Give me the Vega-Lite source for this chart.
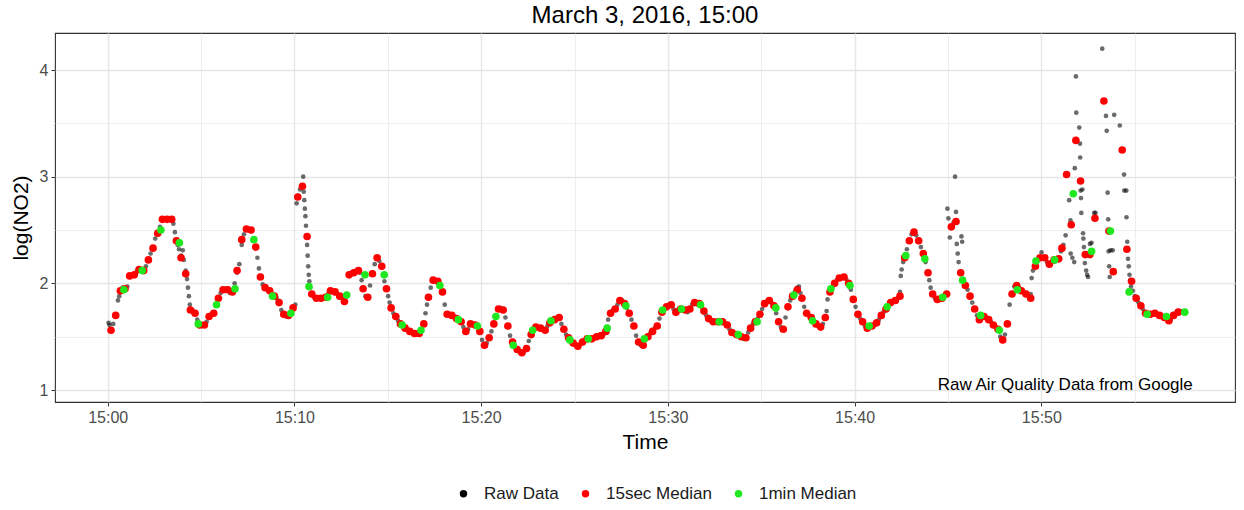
{
"$schema": "https://vega.github.io/schema/vega-lite/v6.json",
"width": 1180, "height": 369,
"autosize": {"type": "none"},
"padding": {"left": 55, "top": 33, "right": 9, "bottom": 108},
"title": {"text": "March 3, 2016, 15:00", "fontSize": 24, "font": "Liberation Sans", "fontWeight": "normal", "color": "#000000", "anchor": "middle", "offset": 5},
"config": {
  "font": "Liberation Sans",
  "view": {"stroke": "#333333", "strokeWidth": 1.1},
  "axis": {"domain": false, "gridColor": "#E6E6E6", "tickColor": "#333333", "tickSize": 4, "tickWidth": 1, "labelFontSize": 16, "labelColor": "#4D4D4D", "titleFontSize": 21, "titleFontWeight": "normal", "titleColor": "#000000", "labelPadding": 3}
},
"datasets": {
"raw": [
{"t":0.05,"v":1.63},{"t":0.1,"v":1.61},{"t":0.18,"v":1.57},{"t":0.3,"v":1.62},{"t":0.43,"v":1.70},{"t":0.55,"v":1.84},{"t":0.62,"v":1.88},{"t":0.68,"v":1.93},{"t":0.8,"v":1.96},{"t":0.93,"v":1.95},
{"t":1.05,"v":1.97},{"t":1.18,"v":2.06},{"t":1.3,"v":2.08},{"t":1.43,"v":2.09},{"t":1.55,"v":2.11},{"t":1.68,"v":2.13},{"t":1.8,"v":2.12},{"t":1.93,"v":2.11},
{"t":2.05,"v":2.16},{"t":2.18,"v":2.22},{"t":2.3,"v":2.28},{"t":2.43,"v":2.34},{"t":2.55,"v":2.42},{"t":2.68,"v":2.47},{"t":2.8,"v":2.53},{"t":2.93,"v":2.59},
{"t":3.05,"v":2.60},{"t":3.18,"v":2.61},{"t":3.3,"v":2.60},{"t":3.43,"v":2.59},{"t":3.52,"v":2.56},{"t":3.6,"v":2.48},{"t":3.68,"v":2.41},{"t":3.75,"v":2.36},{"t":3.82,"v":2.32},{"t":3.93,"v":2.26},
{"t":4.02,"v":2.31},{"t":4.08,"v":2.22},{"t":4.18,"v":2.12},{"t":4.25,"v":2.04},{"t":4.3,"v":1.96},{"t":4.35,"v":1.88},{"t":4.4,"v":1.80},{"t":4.43,"v":1.76},{"t":4.55,"v":1.75},{"t":4.68,"v":1.72},{"t":4.8,"v":1.66},{"t":4.93,"v":1.61},
{"t":5.05,"v":1.60},{"t":5.18,"v":1.61},{"t":5.3,"v":1.64},{"t":5.43,"v":1.68},{"t":5.55,"v":1.71},{"t":5.68,"v":1.73},{"t":5.8,"v":1.79},{"t":5.93,"v":1.86},
{"t":6.05,"v":1.91},{"t":6.18,"v":1.94},{"t":6.3,"v":1.95},{"t":6.43,"v":1.93},{"t":6.55,"v":1.91},{"t":6.68,"v":1.92},{"t":6.8,"v":2.00},{"t":6.93,"v":2.10},
{"t":7.05,"v":2.18},{"t":7.18,"v":2.36},{"t":7.3,"v":2.46},{"t":7.43,"v":2.51},{"t":7.55,"v":2.51},{"t":7.68,"v":2.49},{"t":7.8,"v":2.42},{"t":7.93,"v":2.33},
{"t":8.02,"v":2.24},{"t":8.1,"v":2.14},{"t":8.18,"v":2.07},{"t":8.3,"v":1.99},{"t":8.43,"v":1.96},{"t":8.55,"v":1.94},{"t":8.68,"v":1.92},{"t":8.8,"v":1.90},{"t":8.93,"v":1.88},
{"t":9.05,"v":1.86},{"t":9.18,"v":1.82},{"t":9.3,"v":1.75},{"t":9.43,"v":1.71},{"t":9.55,"v":1.69},{"t":9.68,"v":1.70},{"t":9.8,"v":1.72},{"t":9.93,"v":1.77},
{"t":10.05,"v":1.80},{"t":10.12,"v":2.75},{"t":10.18,"v":2.82},{"t":10.3,"v":2.88},{"t":10.43,"v":2.92},{"t":10.47,"v":3.00},{"t":10.5,"v":2.86},{"t":10.53,"v":2.78},{"t":10.56,"v":2.70},{"t":10.59,"v":2.63},{"t":10.62,"v":2.54},{"t":10.65,"v":2.45},{"t":10.68,"v":2.36},{"t":10.71,"v":2.26},{"t":10.74,"v":2.16},{"t":10.77,"v":2.08},{"t":10.8,"v":2.02},{"t":10.85,"v":1.96},{"t":10.93,"v":1.90},
{"t":11.05,"v":1.87},{"t":11.18,"v":1.86},{"t":11.3,"v":1.86},{"t":11.43,"v":1.86},{"t":11.55,"v":1.87},{"t":11.68,"v":1.88},{"t":11.8,"v":1.90},{"t":11.93,"v":1.93},
{"t":12.05,"v":1.93},{"t":12.18,"v":1.92},{"t":12.3,"v":1.90},{"t":12.43,"v":1.88},{"t":12.55,"v":1.86},{"t":12.68,"v":1.83},{"t":12.8,"v":1.90},{"t":12.93,"v":2.07},
{"t":13.05,"v":2.10},{"t":13.18,"v":2.11},{"t":13.3,"v":2.12},{"t":13.43,"v":2.12},{"t":13.52,"v":2.10},{"t":13.6,"v":2.03},{"t":13.68,"v":1.95},{"t":13.8,"v":1.88},{"t":13.93,"v":1.87},
{"t":14.05,"v":1.98},{"t":14.18,"v":2.10},{"t":14.3,"v":2.18},{"t":14.43,"v":2.24},{"t":14.55,"v":2.21},{"t":14.68,"v":2.15},{"t":14.75,"v":2.08},{"t":14.82,"v":2.02},{"t":14.93,"v":1.95},
{"t":15.02,"v":1.88},{"t":15.1,"v":1.82},{"t":15.18,"v":1.77},{"t":15.3,"v":1.72},{"t":15.43,"v":1.69},{"t":15.55,"v":1.65},{"t":15.68,"v":1.62},{"t":15.8,"v":1.60},{"t":15.93,"v":1.58},
{"t":16.05,"v":1.56},{"t":16.18,"v":1.55},{"t":16.3,"v":1.54},{"t":16.43,"v":1.53},{"t":16.55,"v":1.52},{"t":16.68,"v":1.53},{"t":16.8,"v":1.56},{"t":16.93,"v":1.62},
{"t":17.02,"v":1.72},{"t":17.1,"v":1.80},{"t":17.18,"v":1.87},{"t":17.3,"v":1.96},{"t":17.43,"v":2.02},{"t":17.55,"v":2.03},{"t":17.68,"v":2.02},{"t":17.8,"v":1.97},{"t":17.93,"v":1.91},
{"t":18.05,"v":1.80},{"t":18.18,"v":1.72},{"t":18.3,"v":1.70},{"t":18.43,"v":1.70},{"t":18.55,"v":1.69},{"t":18.68,"v":1.67},{"t":18.8,"v":1.66},{"t":18.93,"v":1.64},
{"t":19.05,"v":1.59},{"t":19.18,"v":1.54},{"t":19.3,"v":1.57},{"t":19.43,"v":1.62},{"t":19.55,"v":1.62},{"t":19.68,"v":1.61},{"t":19.8,"v":1.59},{"t":19.93,"v":1.55},
{"t":20.05,"v":1.47},{"t":20.18,"v":1.42},{"t":20.3,"v":1.44},{"t":20.43,"v":1.49},{"t":20.55,"v":1.55},{"t":20.68,"v":1.62},{"t":20.8,"v":1.69},{"t":20.93,"v":1.76},
{"t":21.05,"v":1.77},{"t":21.18,"v":1.75},{"t":21.3,"v":1.68},{"t":21.43,"v":1.60},{"t":21.55,"v":1.51},{"t":21.68,"v":1.45},{"t":21.8,"v":1.41},{"t":21.93,"v":1.38},
{"t":22.05,"v":1.36},{"t":22.18,"v":1.35},{"t":22.3,"v":1.36},{"t":22.43,"v":1.39},{"t":22.55,"v":1.46},{"t":22.68,"v":1.52},{"t":22.8,"v":1.57},{"t":22.93,"v":1.59},
{"t":23.05,"v":1.59},{"t":23.18,"v":1.58},{"t":23.3,"v":1.57},{"t":23.43,"v":1.56},{"t":23.55,"v":1.60},{"t":23.68,"v":1.63},{"t":23.8,"v":1.65},{"t":23.93,"v":1.66},
{"t":24.05,"v":1.68},{"t":24.18,"v":1.68},{"t":24.3,"v":1.62},{"t":24.43,"v":1.57},{"t":24.55,"v":1.52},{"t":24.68,"v":1.49},{"t":24.8,"v":1.46},{"t":24.93,"v":1.44},
{"t":25.05,"v":1.42},{"t":25.18,"v":1.41},{"t":25.3,"v":1.43},{"t":25.43,"v":1.45},{"t":25.55,"v":1.47},{"t":25.68,"v":1.48},{"t":25.8,"v":1.48},{"t":25.93,"v":1.48},
{"t":26.05,"v":1.49},{"t":26.18,"v":1.50},{"t":26.3,"v":1.50},{"t":26.43,"v":1.51},{"t":26.55,"v":1.52},{"t":26.68,"v":1.56},{"t":26.8,"v":1.66},{"t":26.93,"v":1.72},
{"t":27.05,"v":1.75},{"t":27.18,"v":1.76},{"t":27.3,"v":1.80},{"t":27.43,"v":1.84},{"t":27.55,"v":1.84},{"t":27.68,"v":1.81},{"t":27.8,"v":1.77},{"t":27.93,"v":1.72},
{"t":28.05,"v":1.66},{"t":28.18,"v":1.60},{"t":28.3,"v":1.51},{"t":28.43,"v":1.45},{"t":28.55,"v":1.42},{"t":28.68,"v":1.42},{"t":28.8,"v":1.47},{"t":28.93,"v":1.50},
{"t":29.05,"v":1.53},{"t":29.18,"v":1.55},{"t":29.3,"v":1.58},{"t":29.43,"v":1.60},{"t":29.55,"v":1.67},{"t":29.68,"v":1.73},{"t":29.8,"v":1.76},{"t":29.93,"v":1.78},
{"t":30.05,"v":1.80},{"t":30.18,"v":1.80},{"t":30.3,"v":1.76},{"t":30.43,"v":1.73},{"t":30.55,"v":1.75},{"t":30.68,"v":1.76},{"t":30.8,"v":1.76},{"t":30.93,"v":1.75},
{"t":31.05,"v":1.73},{"t":31.18,"v":1.76},{"t":31.3,"v":1.80},{"t":31.43,"v":1.82},{"t":31.55,"v":1.82},{"t":31.68,"v":1.81},{"t":31.8,"v":1.78},{"t":31.93,"v":1.74},
{"t":32.05,"v":1.70},{"t":32.18,"v":1.67},{"t":32.3,"v":1.65},{"t":32.43,"v":1.64},{"t":32.55,"v":1.64},{"t":32.68,"v":1.64},{"t":32.8,"v":1.64},{"t":32.93,"v":1.64},
{"t":33.05,"v":1.63},{"t":33.18,"v":1.61},{"t":33.3,"v":1.57},{"t":33.43,"v":1.54},{"t":33.55,"v":1.53},{"t":33.68,"v":1.52},{"t":33.8,"v":1.51},{"t":33.93,"v":1.50},
{"t":34.05,"v":1.48},{"t":34.18,"v":1.49},{"t":34.3,"v":1.54},{"t":34.43,"v":1.58},{"t":34.55,"v":1.62},{"t":34.68,"v":1.64},{"t":34.8,"v":1.67},{"t":34.93,"v":1.71},
{"t":35.05,"v":1.76},{"t":35.18,"v":1.81},{"t":35.3,"v":1.83},{"t":35.43,"v":1.84},{"t":35.55,"v":1.82},{"t":35.68,"v":1.79},{"t":35.8,"v":1.72},{"t":35.93,"v":1.64},
{"t":36.05,"v":1.59},{"t":36.18,"v":1.57},{"t":36.3,"v":1.68},{"t":36.43,"v":1.78},{"t":36.55,"v":1.84},{"t":36.68,"v":1.88},{"t":36.8,"v":1.92},{"t":36.93,"v":1.96},
{"t":37.02,"v":1.97},{"t":37.1,"v":1.91},{"t":37.18,"v":1.86},{"t":37.3,"v":1.78},{"t":37.43,"v":1.72},{"t":37.55,"v":1.70},{"t":37.68,"v":1.68},{"t":37.8,"v":1.65},{"t":37.93,"v":1.62},
{"t":38.05,"v":1.60},{"t":38.18,"v":1.59},{"t":38.3,"v":1.62},{"t":38.43,"v":1.68},{"t":38.5,"v":1.74},{"t":38.55,"v":1.85},{"t":38.68,"v":1.92},{"t":38.8,"v":1.96},{"t":38.93,"v":2.00},
{"t":39.05,"v":2.03},{"t":39.18,"v":2.05},{"t":39.3,"v":2.06},{"t":39.43,"v":2.06},{"t":39.55,"v":2.04},{"t":39.68,"v":2.00},{"t":39.8,"v":1.94},{"t":39.93,"v":1.85},
{"t":40.05,"v":1.78},{"t":40.18,"v":1.71},{"t":40.3,"v":1.67},{"t":40.43,"v":1.64},{"t":40.55,"v":1.60},{"t":40.68,"v":1.58},{"t":40.8,"v":1.59},{"t":40.93,"v":1.60},
{"t":41.05,"v":1.61},{"t":41.18,"v":1.63},{"t":41.3,"v":1.66},{"t":41.43,"v":1.70},{"t":41.55,"v":1.73},{"t":41.68,"v":1.76},{"t":41.8,"v":1.79},{"t":41.93,"v":1.82},
{"t":42.05,"v":1.83},{"t":42.18,"v":1.84},{"t":42.3,"v":1.86},{"t":42.43,"v":1.92},{"t":42.47,"v":2.07},{"t":42.52,"v":2.13},{"t":42.6,"v":2.20},{"t":42.68,"v":2.24},{"t":42.8,"v":2.32},{"t":42.93,"v":2.40},
{"t":43.05,"v":2.46},{"t":43.18,"v":2.48},{"t":43.3,"v":2.45},{"t":43.43,"v":2.40},{"t":43.55,"v":2.34},{"t":43.68,"v":2.28},{"t":43.8,"v":2.20},{"t":43.93,"v":2.11},
{"t":44.0,"v":2.03},{"t":44.07,"v":1.96},{"t":44.18,"v":1.90},{"t":44.3,"v":1.86},{"t":44.43,"v":1.85},{"t":44.55,"v":1.85},{"t":44.68,"v":1.86},{"t":44.8,"v":1.89},{"t":44.93,"v":1.90},
{"t":44.97,"v":2.70},{"t":45.02,"v":2.61},{"t":45.1,"v":2.43},{"t":45.18,"v":2.53},{"t":45.3,"v":2.57},{"t":45.38,"v":3.00},{"t":45.43,"v":2.67},{"t":45.47,"v":2.37},{"t":45.52,"v":2.28},{"t":45.57,"v":2.20},{"t":45.68,"v":2.10},{"t":45.72,"v":2.44},{"t":45.76,"v":2.39},{"t":45.85,"v":2.02},{"t":45.93,"v":1.98},
{"t":46.05,"v":1.94},{"t":46.18,"v":1.88},{"t":46.3,"v":1.82},{"t":46.43,"v":1.76},{"t":46.55,"v":1.70},{"t":46.68,"v":1.66},{"t":46.8,"v":1.68},{"t":46.93,"v":1.69},
{"t":47.05,"v":1.68},{"t":47.18,"v":1.66},{"t":47.3,"v":1.64},{"t":47.43,"v":1.61},{"t":47.55,"v":1.59},{"t":47.68,"v":1.56},{"t":47.8,"v":1.50},{"t":47.93,"v":1.46},
{"t":48.05,"v":1.52},{"t":48.18,"v":1.62},{"t":48.3,"v":1.80},{"t":48.43,"v":1.90},{"t":48.55,"v":1.97},{"t":48.68,"v":1.98},{"t":48.8,"v":1.96},{"t":48.93,"v":1.93},
{"t":49.05,"v":1.92},{"t":49.18,"v":1.90},{"t":49.3,"v":1.88},{"t":49.43,"v":1.90},{"t":49.48,"v":2.05},{"t":49.55,"v":2.12},{"t":49.68,"v":2.17},{"t":49.8,"v":2.21},{"t":49.93,"v":2.24},
{"t":50.01,"v":2.29},{"t":50.18,"v":2.24},{"t":50.3,"v":2.20},{"t":50.43,"v":2.18},{"t":50.55,"v":2.20},{"t":50.68,"v":2.22},{"t":50.8,"v":2.23},{"t":50.93,"v":2.23},
{"t":51.05,"v":2.30},{"t":51.18,"v":2.36},{"t":51.3,"v":2.45},{"t":51.49,"v":2.78},{"t":51.56,"v":2.59},{"t":51.57,"v":2.28},{"t":51.66,"v":2.24},{"t":51.76,"v":2.20},{"t":51.79,"v":3.08},{"t":51.85,"v":3.94},{"t":51.87,"v":3.60},
{"t":52.03,"v":3.46},{"t":52.07,"v":3.31},{"t":52.08,"v":3.18},{"t":52.1,"v":2.87},{"t":52.12,"v":2.80},{"t":52.14,"v":2.66},{"t":52.2,"v":2.88},{"t":52.23,"v":2.47},{"t":52.25,"v":2.42},{"t":52.28,"v":2.34},{"t":52.33,"v":2.19},{"t":52.4,"v":2.12},{"t":52.45,"v":2.08},{"t":52.5,"v":2.06},{"t":52.6,"v":2.37},{"t":52.69,"v":2.38},{"t":52.83,"v":2.66},{"t":52.9,"v":2.66},
{"t":53.26,"v":4.20},{"t":53.46,"v":3.57},{"t":53.5,"v":3.43},{"t":53.55,"v":2.85},{"t":53.58,"v":2.60},{"t":53.6,"v":2.30},{"t":53.63,"v":2.16},{"t":53.66,"v":2.06},{"t":53.7,"v":2.31},{"t":53.82,"v":2.31},{"t":53.9,"v":3.58},
{"t":54.2,"v":3.48},{"t":54.43,"v":3.02},{"t":54.44,"v":2.87},{"t":54.55,"v":2.87},{"t":54.56,"v":2.62},{"t":54.6,"v":2.39},{"t":54.64,"v":2.23},{"t":54.68,"v":2.16},{"t":54.72,"v":2.08},{"t":54.76,"v":2.03},{"t":54.8,"v":1.97},{"t":54.9,"v":1.93},
{"t":55.0,"v":1.88},{"t":55.1,"v":1.85},{"t":55.2,"v":1.82},{"t":55.3,"v":1.79},{"t":55.43,"v":1.76},{"t":55.55,"v":1.73},{"t":55.68,"v":1.71},{"t":55.8,"v":1.71},{"t":55.93,"v":1.71},
{"t":56.05,"v":1.72},{"t":56.18,"v":1.71},{"t":56.3,"v":1.70},{"t":56.43,"v":1.69},{"t":56.55,"v":1.68},{"t":56.68,"v":1.67},{"t":56.8,"v":1.64},{"t":56.93,"v":1.66},
{"t":57.05,"v":1.70},{"t":57.18,"v":1.72},{"t":57.3,"v":1.73},{"t":57.43,"v":1.73},{"t":57.5,"v":1.74}
],
"m15": [
{"t":0.18,"v":1.56},{"t":0.43,"v":1.70},{"t":0.68,"v":1.93},{"t":0.93,"v":1.95},{"t":1.18,"v":2.07},{"t":1.43,"v":2.08},{"t":1.68,"v":2.13},{"t":1.93,"v":2.12},{"t":2.18,"v":2.22},{"t":2.43,"v":2.33},{"t":2.68,"v":2.47},{"t":2.93,"v":2.60},{"t":3.18,"v":2.60},{"t":3.43,"v":2.60},{"t":3.68,"v":2.40},{"t":3.93,"v":2.24},{"t":4.18,"v":2.09},{"t":4.43,"v":1.75},{"t":4.68,"v":1.72},{"t":4.93,"v":1.61},
{"t":5.18,"v":1.61},{"t":5.43,"v":1.69},{"t":5.68,"v":1.72},{"t":5.93,"v":1.86},{"t":6.18,"v":1.94},{"t":6.43,"v":1.94},{"t":6.68,"v":1.92},{"t":6.93,"v":2.12},{"t":7.18,"v":2.41},{"t":7.43,"v":2.51},{"t":7.68,"v":2.50},{"t":7.93,"v":2.34},{"t":8.18,"v":2.06},{"t":8.43,"v":1.96},{"t":8.68,"v":1.93},{"t":8.93,"v":1.88},{"t":9.18,"v":1.82},{"t":9.43,"v":1.71},{"t":9.68,"v":1.70},{"t":9.93,"v":1.77},
{"t":10.18,"v":2.81},{"t":10.43,"v":2.91},{"t":10.68,"v":2.44},{"t":10.93,"v":1.90},{"t":11.18,"v":1.86},{"t":11.43,"v":1.86},{"t":11.68,"v":1.87},{"t":11.93,"v":1.93},{"t":12.18,"v":1.92},{"t":12.43,"v":1.88},{"t":12.68,"v":1.83},{"t":12.93,"v":2.08},{"t":13.18,"v":2.10},{"t":13.43,"v":2.12},{"t":13.68,"v":1.95},{"t":13.93,"v":1.87},{"t":14.18,"v":2.09},{"t":14.43,"v":2.24},{"t":14.68,"v":2.16},{"t":14.93,"v":1.95},
{"t":15.18,"v":1.77},{"t":15.43,"v":1.69},{"t":15.68,"v":1.62},{"t":15.93,"v":1.58},{"t":16.18,"v":1.55},{"t":16.43,"v":1.53},{"t":16.68,"v":1.53},{"t":16.93,"v":1.62},{"t":17.18,"v":1.87},{"t":17.43,"v":2.03},{"t":17.68,"v":2.02},{"t":17.93,"v":1.92},{"t":18.18,"v":1.71},{"t":18.43,"v":1.70},{"t":18.68,"v":1.67},{"t":18.93,"v":1.64},{"t":19.18,"v":1.55},{"t":19.43,"v":1.62},{"t":19.68,"v":1.61},{"t":19.93,"v":1.55},
{"t":20.18,"v":1.42},{"t":20.43,"v":1.49},{"t":20.68,"v":1.62},{"t":20.93,"v":1.76},{"t":21.18,"v":1.75},{"t":21.43,"v":1.60},{"t":21.68,"v":1.45},{"t":21.93,"v":1.38},{"t":22.18,"v":1.35},{"t":22.43,"v":1.39},{"t":22.68,"v":1.52},{"t":22.93,"v":1.59},{"t":23.18,"v":1.58},{"t":23.43,"v":1.56},{"t":23.68,"v":1.63},{"t":23.93,"v":1.66},{"t":24.18,"v":1.68},{"t":24.43,"v":1.57},{"t":24.68,"v":1.49},{"t":24.93,"v":1.44},
{"t":25.18,"v":1.41},{"t":25.43,"v":1.45},{"t":25.68,"v":1.48},{"t":25.93,"v":1.48},{"t":26.18,"v":1.50},{"t":26.43,"v":1.51},{"t":26.68,"v":1.55},{"t":26.93,"v":1.72},{"t":27.18,"v":1.76},{"t":27.43,"v":1.84},{"t":27.68,"v":1.81},{"t":27.93,"v":1.72},{"t":28.18,"v":1.60},{"t":28.43,"v":1.45},{"t":28.68,"v":1.42},{"t":28.93,"v":1.50},{"t":29.18,"v":1.55},{"t":29.43,"v":1.60},{"t":29.68,"v":1.73},{"t":29.93,"v":1.78},
{"t":30.18,"v":1.80},{"t":30.43,"v":1.73},{"t":30.68,"v":1.76},{"t":30.93,"v":1.75},{"t":31.18,"v":1.76},{"t":31.43,"v":1.82},{"t":31.68,"v":1.81},{"t":31.93,"v":1.74},{"t":32.18,"v":1.67},{"t":32.43,"v":1.64},{"t":32.68,"v":1.64},{"t":32.93,"v":1.64},{"t":33.18,"v":1.61},{"t":33.43,"v":1.54},{"t":33.68,"v":1.52},{"t":33.93,"v":1.50},{"t":34.18,"v":1.49},{"t":34.43,"v":1.58},{"t":34.68,"v":1.64},{"t":34.93,"v":1.71},
{"t":35.18,"v":1.81},{"t":35.43,"v":1.84},{"t":35.68,"v":1.79},{"t":35.93,"v":1.64},{"t":36.18,"v":1.57},{"t":36.43,"v":1.78},{"t":36.68,"v":1.88},{"t":36.93,"v":1.94},{"t":37.18,"v":1.86},{"t":37.43,"v":1.72},{"t":37.68,"v":1.68},{"t":37.93,"v":1.62},{"t":38.18,"v":1.59},{"t":38.43,"v":1.68},{"t":38.68,"v":1.92},{"t":38.93,"v":2.00},{"t":39.18,"v":2.05},{"t":39.43,"v":2.06},{"t":39.68,"v":2.00},{"t":39.93,"v":1.85},
{"t":40.18,"v":1.71},{"t":40.43,"v":1.64},{"t":40.68,"v":1.58},{"t":40.93,"v":1.60},{"t":41.18,"v":1.63},{"t":41.43,"v":1.70},{"t":41.68,"v":1.76},{"t":41.93,"v":1.82},{"t":42.18,"v":1.84},{"t":42.43,"v":1.88},{"t":42.68,"v":2.24},{"t":42.93,"v":2.40},{"t":43.18,"v":2.48},{"t":43.43,"v":2.40},{"t":43.68,"v":2.28},{"t":43.93,"v":2.10},{"t":44.18,"v":1.90},{"t":44.43,"v":1.85},{"t":44.68,"v":1.86},{"t":44.93,"v":1.90},
{"t":45.18,"v":2.53},{"t":45.43,"v":2.58},{"t":45.68,"v":2.10},{"t":45.93,"v":1.98},{"t":46.18,"v":1.88},{"t":46.43,"v":1.76},{"t":46.68,"v":1.66},{"t":46.93,"v":1.69},{"t":47.18,"v":1.66},{"t":47.43,"v":1.61},{"t":47.68,"v":1.57},{"t":47.93,"v":1.47},{"t":48.18,"v":1.62},{"t":48.43,"v":1.90},{"t":48.68,"v":1.98},{"t":48.93,"v":1.93},{"t":49.18,"v":1.90},{"t":49.43,"v":1.86},{"t":49.68,"v":2.16},{"t":49.93,"v":2.24},
{"t":50.18,"v":2.24},{"t":50.43,"v":2.18},{"t":50.68,"v":2.22},{"t":50.93,"v":2.23},{"t":51.1,"v":2.33},{"t":51.35,"v":3.02},{"t":51.6,"v":2.55},{"t":51.85,"v":3.34},{"t":52.1,"v":2.96},{"t":52.35,"v":2.27},{"t":52.6,"v":2.27},{"t":52.87,"v":2.61},{"t":53.35,"v":3.71},{"t":53.62,"v":2.49},{"t":53.85,"v":2.11},{"t":54.33,"v":3.25},{"t":54.58,"v":2.32},{"t":54.83,"v":2.02},
{"t":55.08,"v":1.86},{"t":55.33,"v":1.79},{"t":55.58,"v":1.72},{"t":55.83,"v":1.71},{"t":56.08,"v":1.72},{"t":56.33,"v":1.70},{"t":56.58,"v":1.68},{"t":56.83,"v":1.65},{"t":57.08,"v":1.70},{"t":57.33,"v":1.73}
],
"m1": [
{"t":0.87,"v":1.94},{"t":1.85,"v":2.12},{"t":2.85,"v":2.50},{"t":3.84,"v":2.38},{"t":4.85,"v":1.62},{"t":5.83,"v":1.80},{"t":6.82,"v":1.95},{"t":7.83,"v":2.41},{"t":8.83,"v":1.88},{"t":9.81,"v":1.72},
{"t":10.78,"v":1.97},{"t":11.78,"v":1.87},{"t":12.8,"v":1.89},{"t":13.78,"v":2.08},{"t":14.81,"v":2.08},{"t":15.77,"v":1.61},{"t":16.78,"v":1.56},{"t":17.79,"v":1.98},{"t":18.78,"v":1.66},{"t":19.8,"v":1.60},
{"t":20.79,"v":1.69},{"t":21.72,"v":1.42},{"t":22.76,"v":1.56},{"t":23.74,"v":1.65},{"t":24.75,"v":1.47},{"t":25.74,"v":1.48},{"t":26.75,"v":1.58},{"t":27.75,"v":1.79},{"t":28.74,"v":1.48},{"t":29.72,"v":1.75},
{"t":30.73,"v":1.76},{"t":31.75,"v":1.80},{"t":32.75,"v":1.64},{"t":33.77,"v":1.52},{"t":34.78,"v":1.64},{"t":35.78,"v":1.77},{"t":36.75,"v":1.89},{"t":37.75,"v":1.65},{"t":38.73,"v":1.95},{"t":39.75,"v":1.98},
{"t":40.78,"v":1.60},{"t":41.74,"v":1.78},{"t":42.74,"v":2.26},{"t":43.76,"v":2.23},{"t":44.72,"v":1.87},{"t":45.78,"v":2.03},{"t":46.75,"v":1.70},{"t":47.75,"v":1.56},{"t":48.71,"v":1.94},{"t":49.71,"v":2.21},
{"t":50.71,"v":2.22},{"t":51.71,"v":2.84},{"t":52.69,"v":2.30},{"t":53.7,"v":2.49},{"t":54.7,"v":1.92},{"t":55.67,"v":1.71},{"t":56.7,"v":1.69},{"t":57.68,"v":1.73}
],
"note": [{"t":58.11,"v":1.05,"label":"Raw Air Quality Data from Google"}]
},
"encoding": {
  "x": {"field": "t", "type": "quantitative", "title": "Time",
    "scale": {"domain": [-2.82, 60.37], "nice": false, "zero": false},
    "axis": {"values": [0,5,10,15,20,25,30,35,40,45,50,55],
      "labelExpr": "datum.value % 10 === 0 ? '15:' + (datum.value < 10 ? '0' : '') + datum.value : ''",
      "gridWidth": {"condition": {"test": "datum.value % 10 === 0", "value": 1.4}, "value": 0.7},
      "tickOpacity": {"condition": {"test": "datum.value % 10 === 0", "value": 1}, "value": 0},
      "titlePadding": 6}},
  "y": {"field": "v", "type": "quantitative", "title": "log(NO2)",
    "scale": {"domain": [0.888, 4.347], "nice": false, "zero": false},
    "axis": {"values": [1,1.5,2,2.5,3,3.5,4],
      "labelExpr": "datum.value % 1 === 0 ? format(datum.value, 'd') : ''",
      "gridWidth": {"condition": {"test": "datum.value % 1 === 0", "value": 1.4}, "value": 0.7},
      "tickOpacity": {"condition": {"test": "datum.value % 1 === 0", "value": 1}, "value": 0},
      "titlePadding": 8}}
},
"layer": [
  {"data": {"name": "raw"}, "mark": {"type": "circle", "size": 22, "opacity": 0.58},
   "encoding": {"color": {"datum": "Raw Data", "type": "nominal",
     "scale": {"domain": ["Raw Data", "15sec Median", "1min Median"], "range": ["#000000", "#FF0000", "#1FE81F"]},
     "legend": {"title": null, "orient": "none", "direction": "horizontal", "legendX": 400, "legendY": 452, "labelFontSize": 17, "labelColor": "#1a1a1a", "symbolSize": 55, "symbolOpacity": 1, "symbolStrokeWidth": 0, "labelOffset": 12, "columnPadding": 18, "symbolType": "circle"}}}},
  {"data": {"name": "m15"}, "mark": {"type": "circle", "size": 58, "opacity": 1},
   "encoding": {"color": {"datum": "15sec Median", "type": "nominal"}}},
  {"data": {"name": "m1"}, "mark": {"type": "circle", "size": 58, "opacity": 1},
   "encoding": {"color": {"datum": "1min Median", "type": "nominal"}}},
  {"data": {"name": "note"}, "mark": {"type": "text", "align": "right", "baseline": "middle", "fontSize": 17, "color": "#000000"},
   "encoding": {"text": {"field": "label"}}}
]
}
